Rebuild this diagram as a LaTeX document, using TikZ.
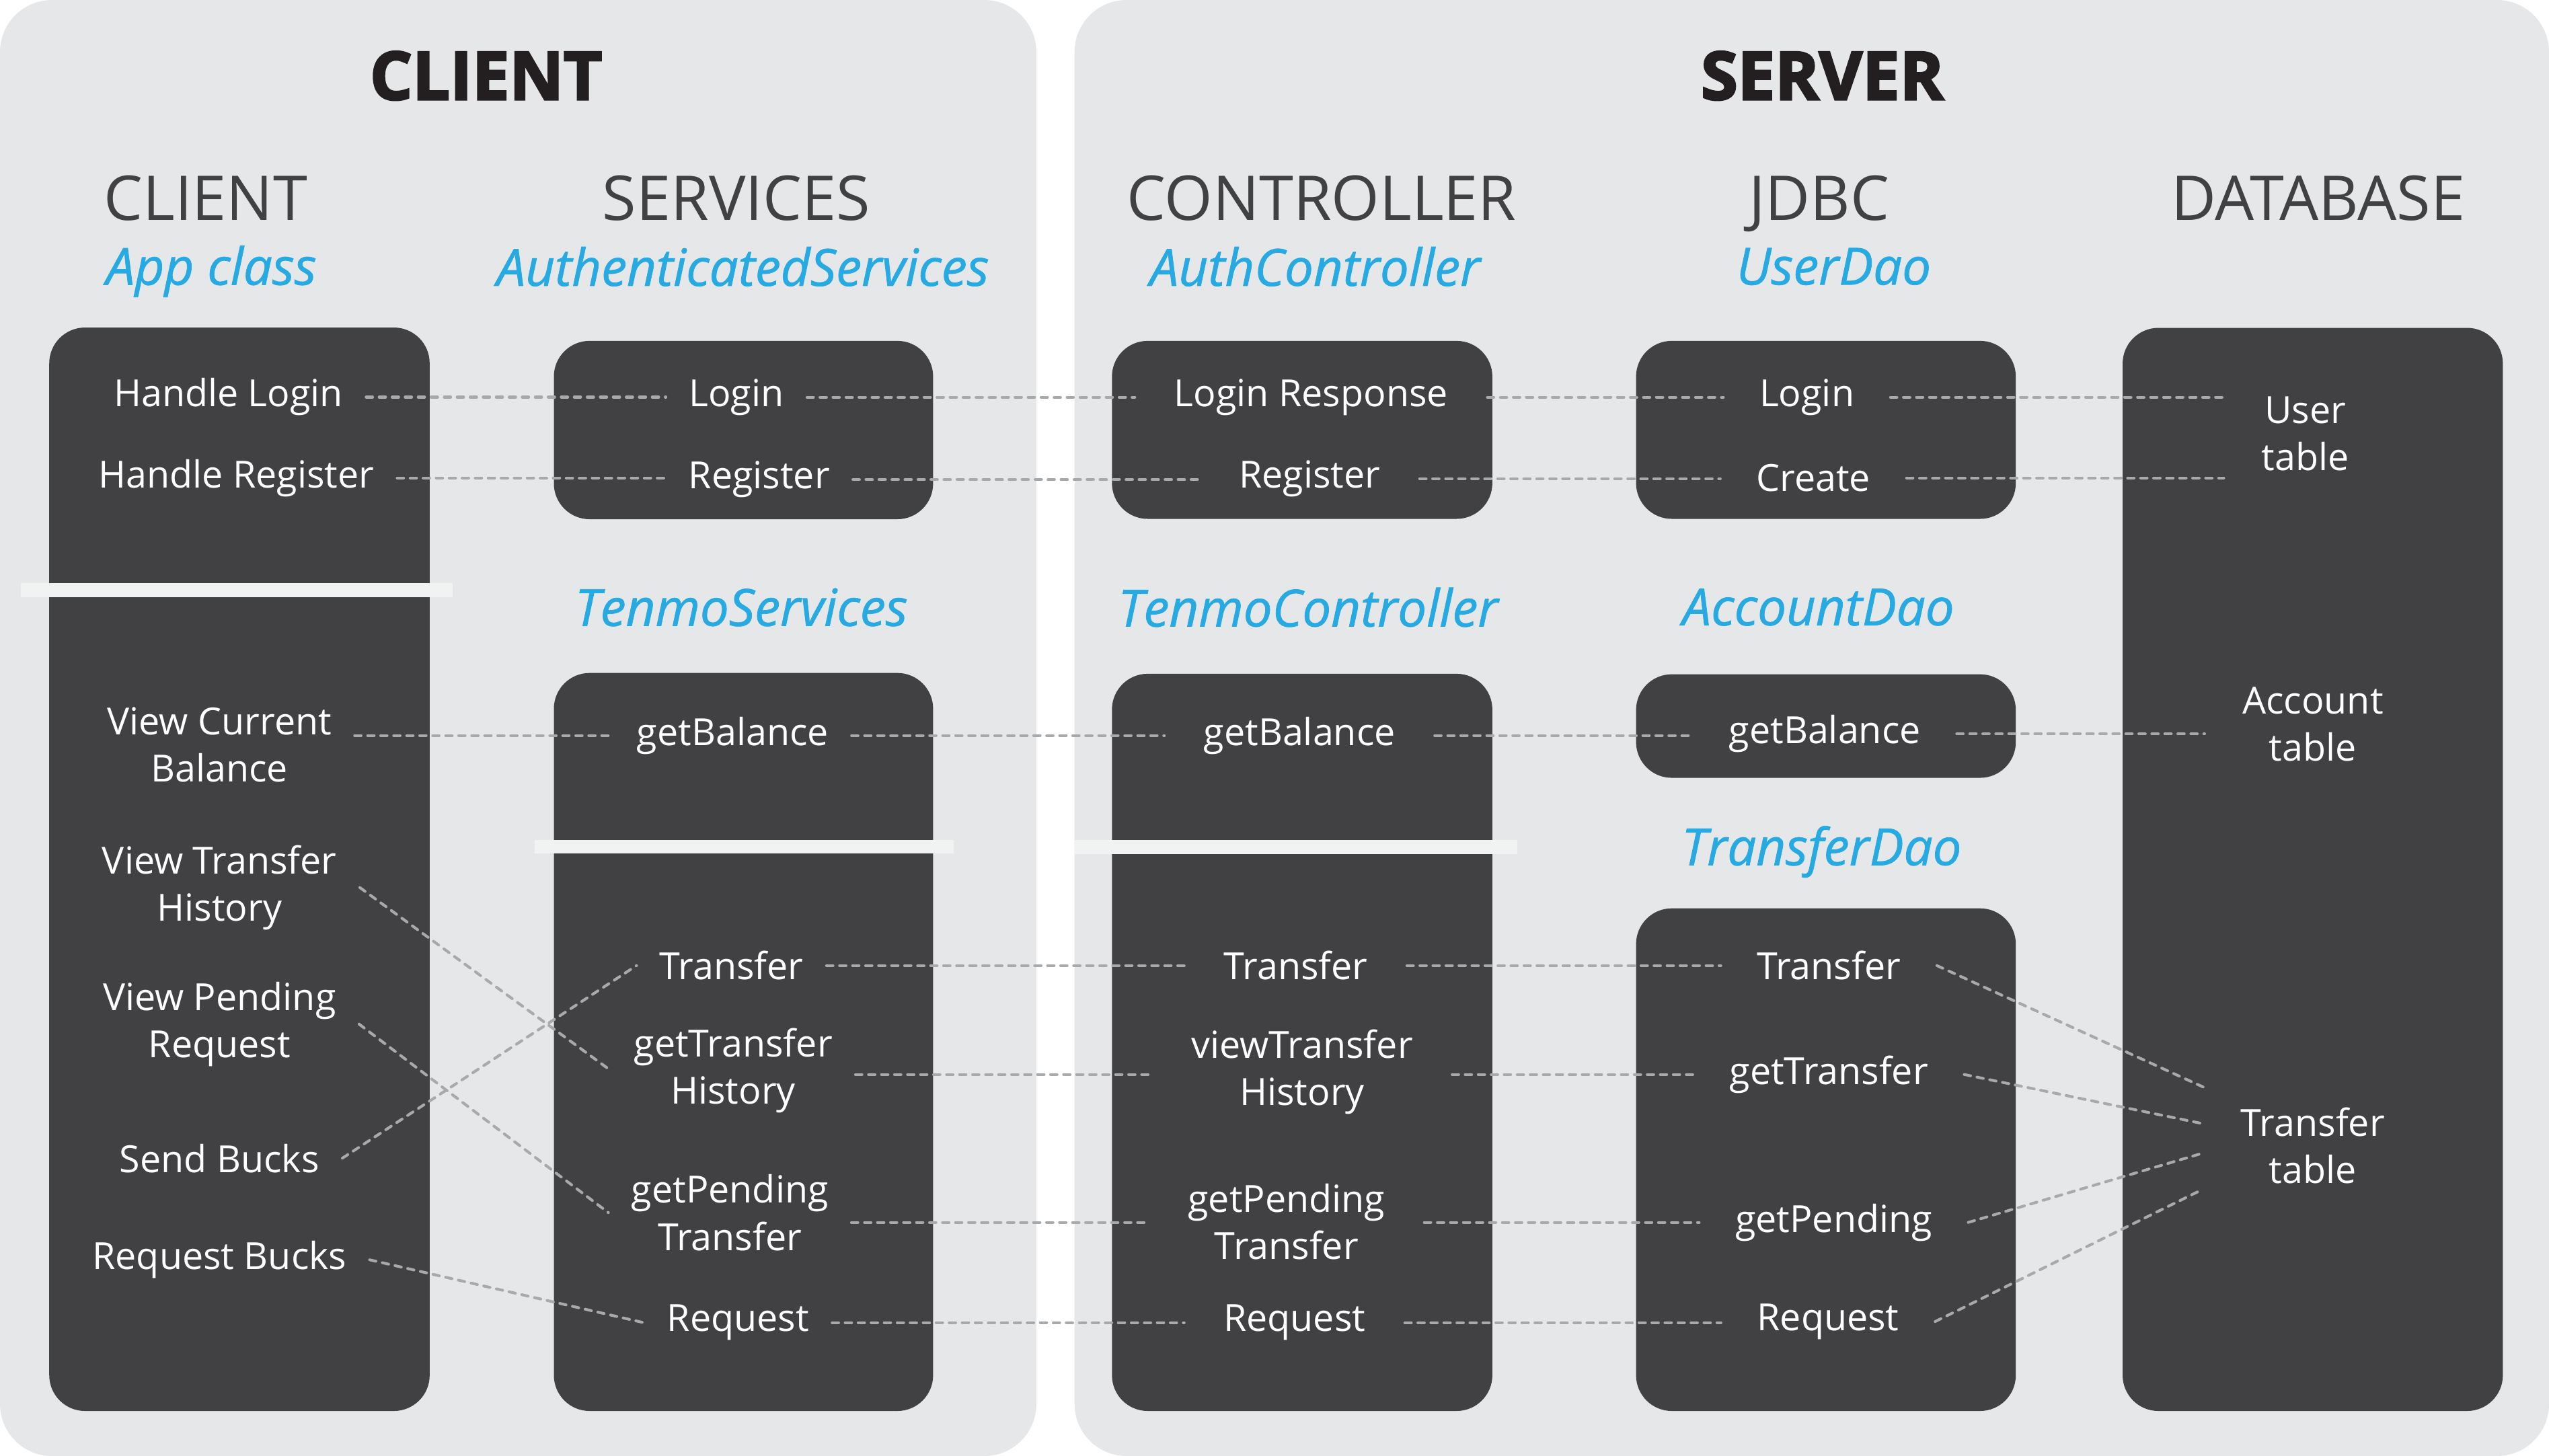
\documentclass[tikz,border=0pt]{standalone}
\usepackage{fontspec}
\setmainfont{Open Sans}
\newfontfamily\heavyfont{Open Sans}[FakeBold=3]
\newfontfamily\clsfont{Open Sans}[FakeBold=1]

\definecolor{panelgray}{HTML}{E6E7E8}
\definecolor{boxdark}{HTML}{414042}
\definecolor{classblue}{HTML}{27AAE1}
\definecolor{dashgray}{HTML}{A7A9AC}
\definecolor{barwhite}{HTML}{F1F2F2}
\definecolor{titleblack}{HTML}{231F20}

\begin{document}
\begin{tikzpicture}[x=1pt, y=-1pt,
    bigtitle/.style={text=titleblack, font=\fontsize{41}{44}\selectfont\heavyfont\bfseries},
    head/.style={text=boxdark, font=\fontsize{38}{40}\selectfont, text depth=0pt},
    cls/.style={text=classblue, font=\fontsize{31.5}{34}\selectfont\clsfont\itshape},
    item/.style={text=white, font=\fontsize{23}{29}\selectfont, align=center, inner xsep=14pt, inner ysep=2pt},
    ctlitem/.style={item, inner xsep=24pt},
    daoitem/.style={item, inner xsep=22pt},
    dbitem/.style={item, inner xsep=23pt},
    box/.style={fill=boxdark, rounded corners=22pt},
    bar/.style={fill=barwhite},
    link/.style={draw=dashgray, line width=1.7pt, line cap=round, dash pattern=on 4pt off 4pt}]
    \useasboundingbox (0,0) rectangle (1568,895.7);

    % 背景のパネル
    \fill[panelgray, rounded corners=32pt] (0,0) rectangle (637.5,895.7);
    \fill[panelgray, rounded corners=32pt] (661,0) rectangle (1568,895.7);

    % 黒い箱
    \fill[box] (30.3,201.5) rectangle (264.3,868);
    \fill[box] (340.7,209.7) rectangle (574,319.4);
    \fill[box] (340.7,414) rectangle (574,868);
    \fill[box] (684,209.7) rectangle (918,319.2);
    \fill[box] (684,414.5) rectangle (918,868);
    \fill[box] (1006.4,209.7) rectangle (1240,319.2);
    \fill[box] (1006.4,414.8) rectangle (1240,478.5);
    \fill[box] (1006.4,558.8) rectangle (1240,868);
    \fill[box] (1305.7,201.7) rectangle (1539.6,868);

    % 区切りの白い線
    \fill[bar] (12.7,358.8) rectangle (278.5,367.4);
    \fill[bar] (329,516.8) rectangle (586.7,525.2);
    \fill[bar] (661,516.8) rectangle (933.5,525.4);

    % 見出し
    \node[bigtitle] (TCL) at (299,46.6) {CLIENT};
    \node[bigtitle] (TSV) at (1121,46.6) {SERVER};
    \node[head] (HCL) at (126.5,121.6) {CLIENT};
    \node[head] (HSV) at (453,121.6) {SERVICES};
    \node[head] (HCT) at (813,121.6) {CONTROLLER};
    \node[head] (HJD) at (1119,121.6) {JDBC};
    \node[head] (HDB) at (1426,121.6) {DATABASE};

    % クラス名
    \node[cls] (APP) at (130,167) {App class};
    \node[cls] (AUS) at (457,164) {AuthenticatedServices};
    \node[cls] (AUC) at (809,164) {AuthController};
    \node[cls] (UDAO) at (1128,164) {UserDao};
    \node[cls] (TNS) at (456,373.6) {TenmoServices};
    \node[cls] (TNC) at (804.7,373.6) {TenmoController};
    \node[cls] (ADAO) at (1118.5,373.6) {AccountDao};
    \node[cls] (TDAO) at (1120.5,524) {TransferDao};

    % クライアント
    \node[item] (HL) at (140.5,244.3) {Handle Login};
    \node[item] (HR) at (145.3,294) {Handle Register};
    \node[item] (VCB) at (135,458) {View Current\\Balance};
    \node[item] (VTH) at (135,546) {View Transfer\\History};
    \node[item] (VPR) at (135,630) {View Pending\\Request};
    \node[item] (SB) at (135,712.5) {Send Bucks};
    \node[item] (RB) at (135,775) {Request Bucks};

    % サービス
    \node[item] (SL) at (453,244.4) {Login};
    \node[item] (SR) at (467,295) {Register};
    \node[item] (SGB) at (450.7,452.5) {getBalance};
    \node[item] (ST) at (450,594) {Transfer};
    \node[item] (SGTH) at (451,658.6) {getTransfer\\History};
    \node[item] (SGPT) at (449,746) {getPending\\Transfer};
    \node[item] (SRQ) at (454,813.7) {Request};

    % コントローラ
    \node[ctlitem] (CLR) at (806.5,244.4) {Login Response};
    \node[ctlitem] (CR) at (805.6,294.5) {Register};
    \node[ctlitem] (CGB) at (799.4,452.5) {getBalance};
    \node[ctlitem] (CT) at (797,594) {Transfer};
    \node[ctlitem] (CVTH) at (801,659.3) {viewTransfer\\History};
    \node[ctlitem] (CGPT) at (791.4,751.6) {getPending\\Transfer};
    \node[ctlitem] (CRQ) at (796.3,813.7) {Request};

    % JDBC
    \node[daoitem] (JL) at (1111.5,244.4) {Login};
    \node[daoitem] (JC) at (1115.5,294) {Create};
    \node[daoitem] (JGB) at (1122.5,451.5) {getBalance};
    \node[daoitem] (JT) at (1125,594) {Transfer};
    \node[daoitem] (JGT) at (1125,661) {getTransfer};
    \node[daoitem] (JGP) at (1128,752) {getPending};
    \node[daoitem] (JRQ) at (1124.5,813) {Request};

    % データベース
    \node[dbitem] (UT) at (1418,266.8) {User\\table};
    \node[dbitem] (AT) at (1422.7,445.5) {Account\\table};
    \node[dbitem] (TT) at (1422.7,704.7) {Transfer\\table};
    \coordinate (TT1) at ([yshift=36pt]TT.west);
    \coordinate (TT2) at ([yshift=13.4pt]TT.west);
    \coordinate (TT3) at ([yshift=-4.6pt]TT.west);
    \coordinate (TT4) at ([yshift=-26.8pt]TT.west);

    % 点線でつなぐ
    \draw[link] (HL.east) -- (HL.east -| SL.west);
    \draw[link] (SL.east) -- (SL.east -| CLR.west);
    \draw[link] (CLR.east) -- (CLR.east -| JL.west);
    \draw[link] (JL.east) -- (JL.east -| UT.west);
    \draw[link] (HR.east) -- (HR.east -| SR.west);
    \draw[link] (SR.east) -- (SR.east -| CR.west);
    \draw[link] (CR.east) -- (CR.east -| JC.west);
    \draw[link] (JC.east) -- (JC.east -| UT.west);

    \draw[link] (VCB.east |- SGB.west) -- (SGB.west);
    \draw[link] (SGB.east) -- (SGB.east -| CGB.west);
    \draw[link] (CGB.east) -- (CGB.east -| JGB.west);
    \draw[link] (JGB.east) -- (JGB.east -| AT.west);

    \draw[link] (VTH.east) -- (SGTH.west);
    \draw[link] (SB.east) -- (ST.west);
    \draw[link] (VPR.east) -- (SGPT.west);
    \draw[link] (RB.east) -- (SRQ.west);

    \draw[link] (ST.east) -- (ST.east -| CT.west);
    \draw[link] (CT.east) -- (CT.east -| JT.west);
    \draw[link] (SGTH.east |- JGT.west) -- (CVTH.west |- JGT.west);
    \draw[link] (CVTH.east |- JGT.west) -- (JGT.west);
    \draw[link] (SGPT.east |- JGP.west) -- (CGPT.west |- JGP.west);
    \draw[link] (CGPT.east |- JGP.west) -- (JGP.west);
    \draw[link] (SRQ.east) -- (SRQ.east -| CRQ.west);
    \draw[link] (CRQ.east) -- (CRQ.east -| JRQ.west);

    \draw[link] (JT.east) -- (TT1);
    \draw[link] (JGT.east) -- (TT2);
    \draw[link] (JGP.east) -- (TT3);
    \draw[link] (JRQ.east) -- (TT4);
\end{tikzpicture}
\end{document}
